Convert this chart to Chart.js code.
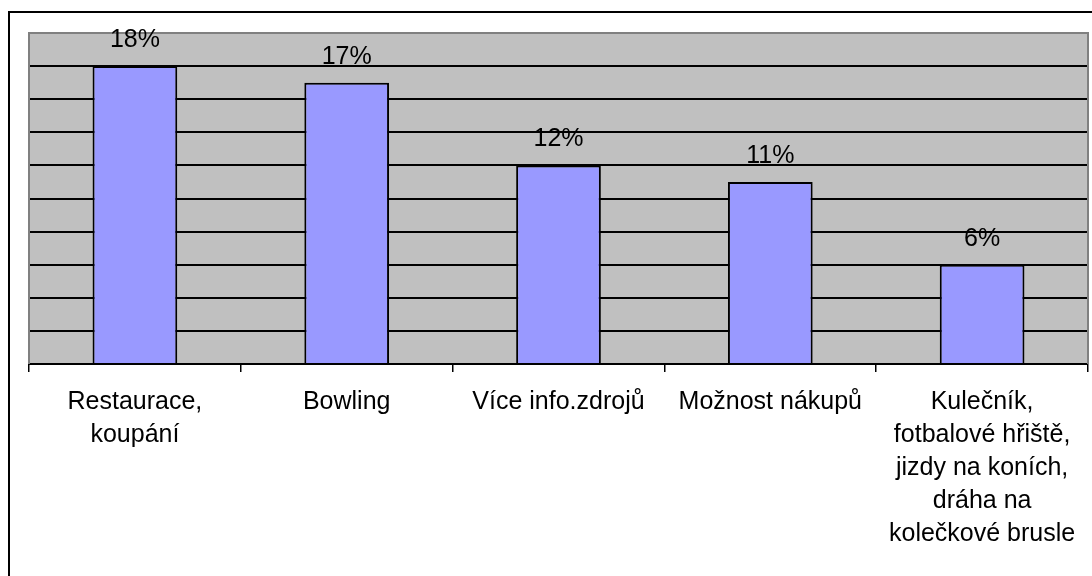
<!DOCTYPE html>
<html>
<head>
<meta charset="utf-8">
<script src="https://cdn.jsdelivr.net/npm/chart.js@4"></script>
<style>
  html, body { margin: 0; padding: 0; background: #fff; overflow: hidden; }
  #wrap { position: relative; width: 1092px; height: 576px; }
  #frame { position: absolute; left: 8px; top: 11px; width: 1100px; height: 600px; border: 2px solid #000; box-sizing: border-box; pointer-events: none; }
  canvas { position: absolute; left: 0; top: 0; }
</style>
</head>
<body>
<div id="wrap">
  <canvas id="chart" width="1092" height="576"></canvas>
  <div id="frame"></div>
</div>
<script>
const categories = [
  ["Restaurace,", "koupání"],
  ["Bowling"],
  ["Více info.zdrojů"],
  ["Možnost nákupů"],
  ["Kulečník,", "fotbalové hřiště,", "jizdy na koních,", "dráha na", "kolečkové brusle"]
];
const values = [18, 17, 12, 11, 6];
const yMax = 20;
const yStep = 2;

const FONT = "'Liberation Sans', Arial, sans-serif";

// gray plot background + side borders
const plotBg = {
  id: "plotBg",
  beforeDraw(chart) {
    const { ctx, chartArea: a } = chart;
    ctx.save();
    ctx.fillStyle = "#c0c0c0";
    ctx.fillRect(a.left, a.top, a.right - a.left, a.bottom - a.top);
    ctx.restore();
  },
  afterDatasetsDraw(chart) {
    const { ctx, chartArea: a } = chart;
    ctx.save();
    ctx.strokeStyle = "#808080";
    ctx.lineWidth = 2;
    ctx.beginPath();
    ctx.moveTo(a.left, a.bottom);
    ctx.lineTo(a.left, a.top);
    ctx.lineTo(a.right, a.top);
    ctx.lineTo(a.right, a.bottom);
    ctx.stroke();
    ctx.restore();
  }
};

// percent labels above bars
const valueLabels = {
  id: "valueLabels",
  afterDatasetsDraw(chart) {
    const { ctx } = chart;
    const meta = chart.getDatasetMeta(0);
    ctx.save();
    ctx.font = "25px " + FONT;
    ctx.fillStyle = "#000";
    ctx.textAlign = "center";
    ctx.textBaseline = "alphabetic";
    meta.data.forEach((bar, i) => {
      ctx.fillText(values[i] + "%", bar.x, bar.y - 19);
    });
    ctx.restore();
  }
};

const ctx = document.getElementById("chart").getContext("2d");
const myChart = new Chart(ctx, {
  type: "bar",
  data: {
    labels: categories,
    datasets: [
      {
        data: values,
        backgroundColor: "#9999ff",
        borderColor: "#000",
        borderWidth: 2,
        barPercentage: 0.4,
        categoryPercentage: 1
      }
    ]
  },
  options: {
    responsive: false,
    animation: false,
    devicePixelRatio: 1,
    layout: { padding: { left: 29, right: 4, top: 33, bottom: 0 } },
    plugins: { legend: { display: false }, tooltip: { enabled: false } },
    scales: {
      x: {
        offset: true,
        grid: {
          offset: true,
          drawOnChartArea: false,
          drawTicks: true,
          tickLength: 8,
          color: "#000",
          lineWidth: 1.5
        },
        border: { color: "#000", width: 2 },
        ticks: {
          color: "#000",
          font: { family: FONT, size: 25, lineHeight: 1.32 },
          padding: 14,
          maxRotation: 0,
          autoSkip: false
        },
        afterFit(scale) { scale.height = 576 - 364; }
      },
      y: {
        min: 0,
        max: yMax,
        ticks: { display: false, stepSize: yStep },
        grid: {
          drawTicks: false,
          color: "#000",
          lineWidth: 2
        },
        border: { display: false },
        afterFit(scale) { scale.width = 0; }
      }
    }
  },
  plugins: [plotBg, valueLabels]
});
</script>
</body>
</html>
